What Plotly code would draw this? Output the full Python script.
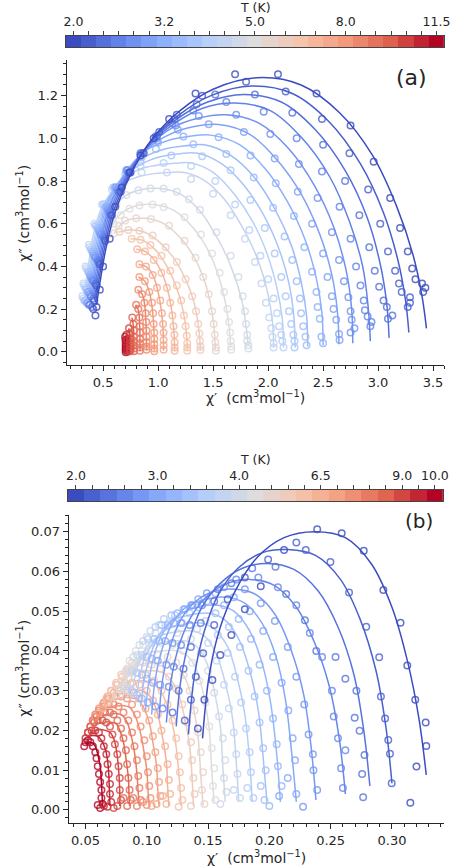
import plotly.graph_objects as go
from plotly.colors import sample_colorscale

# ---------------- panel (a) data ----------------
a_temps = [2.0, 2.2, 2.4, 2.6, 2.8, 3.0, 3.2, 3.4, 3.6, 3.8, 4.0, 4.5, 5.0,
           5.5, 6.0, 6.5, 7.0, 7.5, 8.0, 8.5, 9.0, 9.5, 10.0, 10.5, 11.5]
a_tick_idx = [0, 6, 12, 18, 24]
a_tick_txt = ["2.0", "3.2", "5.0", "8.0", "11.5"]

# measured chi' / chi'' points, one list per temperature
a_chi1 = [
    [0.43, 0.44, 0.47, 0.50, 0.56, 0.61, 0.67, 0.74, 0.84, 0.96, 1.10, 1.34, 1.70, 2.09, 2.44, 2.75, 2.96, 3.11, 3.20, 3.27, 3.31, 3.34, 3.40, 3.43, 3.41],
    [0.41, 0.42, 0.44, 0.47, 0.52, 0.58, 0.66, 0.75, 0.87, 1.01, 1.17, 1.40, 1.80, 2.16, 2.49, 2.74, 2.91, 3.02, 3.09, 3.155, 3.19, 3.215, 3.29, 3.29, 3.27],
    [0.40, 0.41, 0.43, 0.46, 0.51, 0.57, 0.65, 0.74, 0.86, 0.99, 1.15, 1.35, 1.52, 1.88, 2.22, 2.50, 2.70, 2.83, 2.92, 2.97, 3.01, 3.05, 3.08, 3.13, 3.09],
    [0.38, 0.39, 0.41, 0.45, 0.50, 0.56, 0.64, 0.73, 0.85, 0.98, 1.13, 1.32, 1.62, 1.96, 2.26, 2.49, 2.65, 2.75, 2.80, 2.84, 2.87, 2.88, 2.905, 2.94, 2.93],
    [0.37, 0.38, 0.40, 0.43, 0.48, 0.55, 0.63, 0.72, 0.84, 0.98, 1.16, 1.37, 1.71, 2.02, 2.28, 2.45, 2.58, 2.645, 2.69, 2.73, 2.75, 2.76, 2.785, 2.75],
    [0.36, 0.37, 0.39, 0.42, 0.47, 0.54, 0.62, 0.72, 0.84, 0.99, 1.18, 1.46, 1.78, 2.06, 2.27, 2.40, 2.50, 2.54, 2.58, 2.595, 2.62, 2.645, 2.65],
    [0.35, 0.36, 0.38, 0.41, 0.46, 0.53, 0.61, 0.71, 0.84, 1.00, 1.23, 1.55, 1.84, 2.07, 2.235, 2.33, 2.40, 2.44, 2.45, 2.47, 2.485, 2.50],
    [0.34, 0.35, 0.37, 0.40, 0.45, 0.52, 0.61, 0.72, 0.85, 0.98, 1.32, 1.62, 1.87, 2.045, 2.15, 2.22, 2.26, 2.29, 2.30, 2.32, 2.34, 2.35],
    [0.33, 0.34, 0.36, 0.39, 0.44, 0.51, 0.60, 0.71, 0.84, 1.12, 1.40, 1.66, 1.84, 1.97, 2.06, 2.12, 2.16, 2.19, 2.21, 2.23, 2.24, 2.24],
    [0.32, 0.33, 0.35, 0.38, 0.43, 0.50, 0.59, 0.70, 0.84, 1.05, 1.30, 1.52, 1.70, 1.83, 1.93, 2.00, 2.05, 2.08, 2.10, 2.12, 2.13, 2.14],
    [0.31, 0.32, 0.34, 0.37, 0.42, 0.49, 0.58, 0.70, 0.85, 1.08, 1.30, 1.50, 1.66, 1.79, 1.88, 1.94, 1.98, 2.01, 2.03, 2.04, 2.05, 2.05],
    [0.50, 0.55, 0.62, 0.71, 0.82, 0.93, 1.05, 1.17, 1.28, 1.38, 1.53, 1.66, 1.73, 1.77, 1.79, 1.80, 1.81, 1.81, 1.82, 1.82],
    [0.55, 0.60, 0.66, 0.74, 0.83, 0.95, 1.05, 1.24, 1.39, 1.49, 1.56, 1.60, 1.63, 1.645, 1.655, 1.66, 1.665, 1.665],
    [0.60, 0.64, 0.70, 0.80, 0.935, 1.10, 1.24, 1.34, 1.41, 1.46, 1.49, 1.505, 1.515, 1.52, 1.525, 1.525],
    [0.65, 0.73, 0.83, 0.95, 1.07, 1.17, 1.25, 1.31, 1.345, 1.365, 1.375, 1.38, 1.385, 1.385],
    [0.76, 0.84, 0.93, 1.03, 1.11, 1.17, 1.21, 1.235, 1.25, 1.26, 1.265, 1.265, 1.265],
    [0.81, 0.88, 0.96, 1.03, 1.08, 1.11, 1.13, 1.14, 1.148, 1.15, 1.15, 1.15],
    [0.83, 0.89, 0.95, 0.99, 1.02, 1.035, 1.045, 1.05, 1.05, 1.05, 1.05],
    [0.83, 0.88, 0.92, 0.945, 0.955, 0.96, 0.965, 0.965, 0.965, 0.965, 0.965],
    [0.82, 0.855, 0.875, 0.887, 0.892, 0.895, 0.895, 0.895, 0.895, 0.895],
    [0.80, 0.82, 0.83, 0.835, 0.835, 0.835, 0.835, 0.835, 0.835],
    [0.765, 0.775, 0.78, 0.78, 0.78, 0.78, 0.78, 0.78],
    [0.735, 0.742, 0.745, 0.745, 0.745, 0.745, 0.745],
    [0.712, 0.718, 0.72, 0.72, 0.72, 0.72, 0.72],
    [0.70, 0.703, 0.705, 0.705, 0.705, 0.705, 0.705],
]
a_chi2 = [
    [0.17, 0.21, 0.29, 0.40, 0.53, 0.68, 0.77, 0.84, 0.92, 1.00, 1.09, 1.21, 1.30, 1.30, 1.21, 1.06, 0.89, 0.72, 0.58, 0.47, 0.39, 0.34, 0.32, 0.30, 0.28],
    [0.20, 0.24, 0.31, 0.41, 0.52, 0.64, 0.75, 0.84, 0.93, 1.03, 1.11, 1.20, 1.265, 1.22, 1.09, 0.93, 0.76, 0.60, 0.47, 0.38, 0.32, 0.28, 0.255, 0.23, 0.21],
    [0.21, 0.25, 0.32, 0.42, 0.53, 0.64, 0.75, 0.84, 0.93, 1.01, 1.09, 1.16, 1.205, 1.205, 1.12, 0.97, 0.80, 0.64, 0.49, 0.38, 0.305, 0.24, 0.21, 0.17, 0.155],
    [0.22, 0.26, 0.33, 0.43, 0.54, 0.65, 0.75, 0.84, 0.93, 1.01, 1.07, 1.13, 1.17, 1.125, 1.00, 0.845, 0.68, 0.53, 0.40, 0.31, 0.24, 0.195, 0.165, 0.14, 0.12],
    [0.22, 0.27, 0.34, 0.44, 0.55, 0.66, 0.76, 0.85, 0.93, 1.00, 1.06, 1.105, 1.11, 1.02, 0.88, 0.72, 0.56, 0.43, 0.33, 0.255, 0.19, 0.15, 0.11, 0.09],
    [0.23, 0.28, 0.35, 0.45, 0.56, 0.67, 0.77, 0.85, 0.93, 0.99, 1.04, 1.066, 1.03, 0.905, 0.75, 0.60, 0.46, 0.35, 0.26, 0.20, 0.15, 0.083, 0.055],
    [0.23, 0.28, 0.36, 0.46, 0.57, 0.68, 0.77, 0.85, 0.92, 0.98, 1.008, 1.005, 0.92, 0.79, 0.636, 0.49, 0.375, 0.28, 0.21, 0.155, 0.07, 0.04],
    [0.24, 0.29, 0.37, 0.47, 0.58, 0.68, 0.77, 0.85, 0.91, 0.95, 0.972, 0.927, 0.817, 0.675, 0.54, 0.43, 0.33, 0.25, 0.18, 0.12, 0.07, 0.03],
    [0.24, 0.30, 0.38, 0.48, 0.59, 0.69, 0.77, 0.84, 0.89, 0.92, 0.916, 0.85, 0.711, 0.58, 0.46, 0.35, 0.26, 0.19, 0.13, 0.08, 0.05, 0.02],
    [0.25, 0.31, 0.39, 0.49, 0.59, 0.69, 0.77, 0.83, 0.87, 0.885, 0.87, 0.80, 0.69, 0.57, 0.45, 0.34, 0.25, 0.18, 0.12, 0.08, 0.05, 0.02],
    [0.26, 0.32, 0.40, 0.50, 0.60, 0.69, 0.76, 0.81, 0.84, 0.84, 0.81, 0.74, 0.64, 0.53, 0.42, 0.32, 0.23, 0.16, 0.11, 0.07, 0.04, 0.02],
    [0.58, 0.63, 0.69, 0.735, 0.757, 0.765, 0.765, 0.75, 0.715, 0.665, 0.56, 0.45, 0.35, 0.26, 0.19, 0.13, 0.08, 0.05, 0.03, 0.015],
    [0.55, 0.60, 0.64, 0.67, 0.685, 0.69, 0.677, 0.63, 0.55, 0.46, 0.37, 0.28, 0.20, 0.14, 0.09, 0.05, 0.025, 0.01],
    [0.555, 0.59, 0.615, 0.625, 0.622, 0.59, 0.52, 0.44, 0.35, 0.27, 0.19, 0.13, 0.08, 0.045, 0.02, 0.005],
    [0.5625, 0.57, 0.567, 0.545, 0.49, 0.42, 0.34, 0.26, 0.19, 0.13, 0.085, 0.05, 0.025, 0.008],
    [0.53, 0.525, 0.50, 0.45, 0.38, 0.31, 0.24, 0.17, 0.12, 0.075, 0.04, 0.02, 0.005],
    [0.48, 0.47, 0.43, 0.37, 0.30, 0.23, 0.17, 0.12, 0.08, 0.045, 0.02, 0.005],
    [0.41, 0.40, 0.36, 0.30, 0.24, 0.18, 0.13, 0.09, 0.055, 0.03, 0.01],
    [0.35, 0.33, 0.28, 0.23, 0.18, 0.13, 0.09, 0.06, 0.035, 0.015, 0.003],
    [0.29, 0.27, 0.23, 0.18, 0.14, 0.10, 0.07, 0.045, 0.025, 0.01],
    [0.22, 0.20, 0.16, 0.12, 0.09, 0.06, 0.04, 0.02, 0.005],
    [0.16, 0.13, 0.10, 0.07, 0.05, 0.03, 0.015, 0.003],
    [0.11, 0.085, 0.06, 0.04, 0.025, 0.012, 0.002],
    [0.08, 0.06, 0.045, 0.03, 0.018, 0.008, 0.0],
    [0.07, 0.055, 0.04, 0.028, 0.017, 0.008, -0.002],
]
# generalized-Debye fit curves (control points along each fitted arc)
a_fit1 = [
    [0.44, 0.47, 0.52, 0.60, 0.75, 0.95, 1.20, 1.50, 1.90, 2.30, 2.65, 2.95, 3.17, 3.32, 3.40, 3.44],
    [0.43, 0.46, 0.51, 0.59, 0.74, 0.94, 1.19, 1.48, 1.85, 2.22, 2.55, 2.84, 3.05, 3.18, 3.25, 3.28],
    [0.42, 0.45, 0.50, 0.58, 0.73, 0.93, 1.17, 1.45, 1.78, 2.12, 2.43, 2.70, 2.90, 3.02, 3.08, 3.10],
    [0.41, 0.44, 0.49, 0.57, 0.72, 0.92, 1.15, 1.40, 1.70, 2.02, 2.31, 2.56, 2.74, 2.86, 2.91, 2.93],
    [0.40, 0.43, 0.48, 0.56, 0.71, 0.91, 1.13, 1.37, 1.62, 1.92, 2.19, 2.42, 2.60, 2.71, 2.76, 2.77],
    [0.39, 0.42, 0.47, 0.55, 0.70, 0.90, 1.11, 1.33, 1.55, 1.83, 2.08, 2.30, 2.47, 2.58, 2.63, 2.645],
    [0.38, 0.41, 0.46, 0.54, 0.69, 0.88, 1.09, 1.29, 1.48, 1.74, 1.97, 2.18, 2.34, 2.44, 2.49, 2.50],
    [0.37, 0.40, 0.45, 0.53, 0.68, 0.87, 1.06, 1.25, 1.42, 1.66, 1.87, 2.06, 2.21, 2.30, 2.35, 2.36],
    [0.36, 0.39, 0.44, 0.52, 0.67, 0.85, 1.03, 1.20, 1.36, 1.58, 1.78, 1.96, 2.10, 2.19, 2.235, 2.245],
    [0.35, 0.38, 0.43, 0.51, 0.66, 0.83, 1.00, 1.15, 1.30, 1.50, 1.69, 1.86, 1.99, 2.08, 2.13, 2.14],
    [0.34, 0.37, 0.42, 0.50, 0.65, 0.82, 0.97, 1.10, 1.24, 1.43, 1.61, 1.77, 1.90, 1.99, 2.04, 2.05],
    [0.50, 0.58, 0.70, 0.85, 1.02, 1.20, 1.38, 1.52, 1.63, 1.71, 1.77, 1.80, 1.82],
    [0.55, 0.63, 0.75, 0.95, 1.15, 1.32, 1.45, 1.54, 1.60, 1.64, 1.66],
    [0.60, 0.70, 0.88, 1.05, 1.20, 1.32, 1.41, 1.47, 1.505, 1.52],
    [0.64, 0.75, 0.88, 1.02, 1.14, 1.24, 1.31, 1.355, 1.375, 1.385],
    [0.75, 0.86, 0.98, 1.08, 1.16, 1.215, 1.245, 1.26, 1.265],
    [0.80, 0.89, 0.98, 1.05, 1.10, 1.13, 1.145, 1.15],
    [0.82, 0.90, 0.96, 1.00, 1.03, 1.045, 1.05],
    [0.82, 0.88, 0.92, 0.945, 0.96, 0.965],
    [0.81, 0.855, 0.878, 0.89, 0.895],
    [0.795, 0.82, 0.832, 0.835],
    [0.762, 0.775, 0.78],
    [0.733, 0.744, 0.745],
    [0.71, 0.72, 0.72],
    [0.70, 0.705, 0.705],
]
a_fit2 = [
    [0.22, 0.32, 0.47, 0.64, 0.83, 1.00, 1.13, 1.23, 1.284, 1.25, 1.12, 0.92, 0.68, 0.45, 0.26, 0.11],
    [0.23, 0.33, 0.48, 0.65, 0.83, 0.99, 1.11, 1.20, 1.245, 1.21, 1.08, 0.88, 0.65, 0.43, 0.24, 0.09],
    [0.24, 0.34, 0.49, 0.66, 0.83, 0.98, 1.09, 1.17, 1.205, 1.17, 1.04, 0.85, 0.63, 0.41, 0.22, 0.065],
    [0.25, 0.35, 0.50, 0.67, 0.83, 0.97, 1.07, 1.14, 1.165, 1.13, 1.00, 0.82, 0.61, 0.40, 0.21, 0.05],
    [0.26, 0.36, 0.51, 0.68, 0.83, 0.96, 1.05, 1.095, 1.11, 1.07, 0.95, 0.78, 0.58, 0.38, 0.20, 0.04],
    [0.27, 0.37, 0.52, 0.68, 0.83, 0.95, 1.02, 1.055, 1.065, 1.02, 0.90, 0.74, 0.55, 0.36, 0.19, 0.035],
    [0.27, 0.38, 0.53, 0.69, 0.83, 0.94, 0.99, 1.01, 1.015, 0.97, 0.86, 0.70, 0.52, 0.34, 0.18, 0.03],
    [0.28, 0.39, 0.54, 0.69, 0.82, 0.91, 0.95, 0.965, 0.97, 0.92, 0.82, 0.67, 0.50, 0.33, 0.17, 0.025],
    [0.29, 0.40, 0.55, 0.69, 0.81, 0.88, 0.915, 0.928, 0.93, 0.88, 0.78, 0.64, 0.48, 0.32, 0.16, 0.02],
    [0.30, 0.41, 0.56, 0.69, 0.80, 0.855, 0.875, 0.883, 0.885, 0.84, 0.74, 0.61, 0.46, 0.30, 0.15, 0.02],
    [0.31, 0.42, 0.57, 0.69, 0.78, 0.82, 0.835, 0.84, 0.84, 0.80, 0.71, 0.58, 0.44, 0.29, 0.14, 0.02],
    [0.58, 0.66, 0.73, 0.76, 0.765, 0.74, 0.66, 0.55, 0.44, 0.33, 0.22, 0.12, 0.03],
    [0.55, 0.63, 0.675, 0.69, 0.66, 0.58, 0.48, 0.37, 0.26, 0.14, 0.02],
    [0.555, 0.612, 0.625, 0.60, 0.535, 0.45, 0.35, 0.24, 0.13, 0.01],
    [0.56, 0.572, 0.56, 0.51, 0.44, 0.35, 0.26, 0.16, 0.08, 0.005],
    [0.53, 0.522, 0.475, 0.40, 0.31, 0.22, 0.14, 0.07, 0.005],
    [0.48, 0.468, 0.42, 0.35, 0.26, 0.17, 0.08, 0.005],
    [0.41, 0.395, 0.35, 0.28, 0.19, 0.10, 0.005],
    [0.35, 0.33, 0.28, 0.21, 0.12, 0.005],
    [0.29, 0.27, 0.22, 0.13, 0.005],
    [0.22, 0.195, 0.13, 0.005],
    [0.16, 0.12, 0.005],
    [0.11, 0.07, 0.005],
    [0.08, 0.04, 0.003],
    [0.07, 0.035, 0.0],
]

# ---------------- panel (b) data ----------------
b_temps = [2.0, 2.2, 2.4, 2.6, 2.8, 3.0, 3.2, 3.4, 3.6, 3.8, 4.0, 4.5,
           5.0, 5.5, 6.0, 6.5, 7.0, 7.5, 8.0, 8.5, 9.0, 9.5, 10.0]
b_tick_idx = [0, 5, 10, 15, 20, 22]
b_tick_txt = ["2.0", "3.0", "4.0", "6.5", "9.0", "10.0"]

b_chi1 = [
    [0.1417, 0.147, 0.1535, 0.160, 0.169, 0.180, 0.193, 0.212, 0.239, 0.259, 0.277, 0.293, 0.307, 0.3125, 0.319, 0.3275, 0.328, 0.320, 0.315],
    [0.131, 0.136, 0.140, 0.146, 0.155, 0.166, 0.180, 0.199, 0.222, 0.2297, 0.2498, 0.265, 0.279, 0.2896, 0.291, 0.2944, 0.297, 0.2984, 0.2998],
    [0.121, 0.126, 0.130, 0.136, 0.144, 0.155, 0.169, 0.186, 0.205, 0.2137, 0.229, 0.2383, 0.254, 0.262, 0.271, 0.2696, 0.2736, 0.2776, 0.2757, 0.2765],
    [0.113, 0.118, 0.122, 0.128, 0.135, 0.145, 0.158, 0.173, 0.191, 0.207, 0.222, 0.233, 0.243, 0.251, 0.2525, 0.256, 0.262, 0.2585, 0.260],
    [0.107, 0.111, 0.116, 0.121, 0.128, 0.137, 0.149, 0.163, 0.180, 0.193, 0.2045, 0.215, 0.222, 0.2285, 0.232, 0.2355, 0.236, 0.239, 0.2275],
    [0.101, 0.105, 0.109, 0.115, 0.122, 0.131, 0.142, 0.156, 0.171, 0.184, 0.195, 0.203, 0.210, 0.2155, 0.219, 0.221, 0.215, 0.222, 0.208],
    [0.096, 0.100, 0.104, 0.110, 0.117, 0.125, 0.136, 0.149, 0.163, 0.175, 0.185, 0.192, 0.198, 0.203, 0.206, 0.207, 0.210, 0.200],
    [0.092, 0.096, 0.100, 0.106, 0.112, 0.120, 0.130, 0.142, 0.156, 0.167, 0.176, 0.183, 0.188, 0.192, 0.195, 0.197, 0.193, 0.196],
    [0.088, 0.092, 0.096, 0.101, 0.107, 0.114, 0.123, 0.135, 0.148, 0.158, 0.166, 0.172, 0.177, 0.181, 0.184, 0.185, 0.182, 0.187],
    [0.084, 0.088, 0.092, 0.097, 0.103, 0.110, 0.118, 0.129, 0.141, 0.150, 0.157, 0.163, 0.167, 0.171, 0.173, 0.174, 0.171, 0.176],
    [0.081, 0.085, 0.089, 0.094, 0.100, 0.107, 0.115, 0.125, 0.136, 0.144, 0.150, 0.155, 0.159, 0.162, 0.164, 0.163, 0.165, 0.160],
    [0.078, 0.082, 0.086, 0.091, 0.097, 0.104, 0.112, 0.121, 0.130, 0.137, 0.143, 0.148, 0.151, 0.153, 0.155, 0.154, 0.156],
    [0.075, 0.079, 0.083, 0.088, 0.094, 0.101, 0.109, 0.117, 0.124, 0.130, 0.135, 0.139, 0.142, 0.144, 0.146, 0.145, 0.147],
    [0.071, 0.075, 0.079, 0.084, 0.090, 0.097, 0.104, 0.111, 0.118, 0.124, 0.129, 0.133, 0.136, 0.137, 0.138, 0.139, 0.136],
    [0.068, 0.071, 0.075, 0.080, 0.086, 0.092, 0.099, 0.106, 0.112, 0.117, 0.121, 0.124, 0.126, 0.127, 0.128, 0.129, 0.126],
    [0.064, 0.067, 0.071, 0.076, 0.082, 0.088, 0.094, 0.100, 0.105, 0.109, 0.112, 0.115, 0.117, 0.118, 0.119, 0.116, 0.113],
    [0.061, 0.064, 0.068, 0.073, 0.078, 0.084, 0.089, 0.094, 0.099, 0.102, 0.105, 0.107, 0.109, 0.110, 0.111, 0.108, 0.104],
    [0.058, 0.061, 0.065, 0.069, 0.074, 0.079, 0.084, 0.088, 0.092, 0.095, 0.098, 0.100, 0.101, 0.102, 0.103, 0.100, 0.097],
    [0.056, 0.058, 0.061, 0.065, 0.069, 0.073, 0.077, 0.081, 0.085, 0.088, 0.090, 0.092, 0.093, 0.094, 0.095, 0.092, 0.089],
    [0.054, 0.056, 0.059, 0.062, 0.066, 0.070, 0.073, 0.076, 0.079, 0.081, 0.083, 0.084, 0.085, 0.086, 0.087, 0.084, 0.081],
    [0.052, 0.054, 0.057, 0.060, 0.064, 0.067, 0.070, 0.072, 0.074, 0.076, 0.077, 0.078, 0.078, 0.079, 0.076, 0.073],
    [0.050, 0.052, 0.055, 0.058, 0.061, 0.063, 0.065, 0.067, 0.068, 0.069, 0.070, 0.070, 0.071, 0.068, 0.065],
    [0.049, 0.050, 0.052, 0.054, 0.056, 0.058, 0.059, 0.060, 0.061, 0.062, 0.063, 0.063, 0.064, 0.062, 0.060],
]
b_chi2 = [
    [0.0205, 0.0277, 0.0327, 0.0390, 0.0440, 0.0505, 0.0563, 0.0654, 0.0706, 0.0696, 0.0652, 0.0553, 0.0471, 0.0363, 0.0277, 0.0220, 0.0161, 0.0109, 0.0018],
    [0.0225, 0.0277, 0.0335, 0.0394, 0.0465, 0.0530, 0.0585, 0.0630, 0.0673, 0.0654, 0.0624, 0.0547, 0.0461, 0.0384, 0.0285, 0.0230, 0.0176, 0.0141, 0.0067],
    [0.0245, 0.0300, 0.0355, 0.0410, 0.0470, 0.0525, 0.0570, 0.0608, 0.0612, 0.0543, 0.0477, 0.0400, 0.0385, 0.0330, 0.0300, 0.0232, 0.0199, 0.0138, 0.0090, 0.0032],
    [0.0255, 0.0310, 0.0360, 0.0415, 0.0465, 0.0515, 0.0555, 0.0580, 0.0585, 0.0560, 0.0515, 0.0445, 0.0385, 0.0300, 0.0235, 0.0180, 0.0150, 0.0105, 0.0055],
    [0.0260, 0.0315, 0.0365, 0.0420, 0.0470, 0.0515, 0.0545, 0.0560, 0.0555, 0.0520, 0.0475, 0.0410, 0.0335, 0.0265, 0.0190, 0.0140, 0.0100, 0.0050, 0.0008],
    [0.0270, 0.0320, 0.0375, 0.0425, 0.0470, 0.0505, 0.0530, 0.0545, 0.0535, 0.0500, 0.0450, 0.0385, 0.0320, 0.0250, 0.0180, 0.0125, 0.0080, 0.0040, 0.0035],
    [0.0280, 0.0330, 0.0380, 0.0425, 0.0465, 0.0495, 0.0515, 0.0525, 0.0515, 0.0480, 0.0430, 0.0365, 0.0300, 0.0230, 0.0165, 0.0110, 0.0060, 0.0010],
    [0.0290, 0.0340, 0.0385, 0.0430, 0.0465, 0.0490, 0.0505, 0.0510, 0.0495, 0.0460, 0.0410, 0.0350, 0.0285, 0.0220, 0.0155, 0.0100, 0.0060, 0.0025],
    [0.0300, 0.0345, 0.0390, 0.0430, 0.0460, 0.0480, 0.0490, 0.0495, 0.0475, 0.0440, 0.0395, 0.0335, 0.0270, 0.0205, 0.0145, 0.0095, 0.0055, 0.0030],
    [0.0305, 0.0350, 0.0390, 0.0425, 0.0450, 0.0465, 0.0470, 0.0470, 0.0455, 0.0420, 0.0375, 0.0315, 0.0255, 0.0195, 0.0140, 0.0090, 0.0050, 0.0030],
    [0.0310, 0.0350, 0.0385, 0.0415, 0.0435, 0.0445, 0.0450, 0.0445, 0.0430, 0.0395, 0.0350, 0.0295, 0.0235, 0.0180, 0.0125, 0.0080, 0.0045, 0.0015],
    [0.0305, 0.0345, 0.0375, 0.0400, 0.0415, 0.0420, 0.0420, 0.0415, 0.0400, 0.0370, 0.0325, 0.0270, 0.0210, 0.0155, 0.0105, 0.0060, 0.0025],
    [0.0290, 0.0325, 0.0350, 0.0370, 0.0385, 0.0390, 0.0390, 0.0385, 0.0370, 0.0340, 0.0300, 0.0250, 0.0195, 0.0145, 0.0095, 0.0050, 0.0015],
    [0.0285, 0.0315, 0.0340, 0.0355, 0.0365, 0.0370, 0.0365, 0.0355, 0.0335, 0.0305, 0.0265, 0.0220, 0.0170, 0.0125, 0.0080, 0.0040, 0.0010],
    [0.0270, 0.0300, 0.0320, 0.0335, 0.0345, 0.0345, 0.0340, 0.0325, 0.0300, 0.0265, 0.0225, 0.0180, 0.0135, 0.0095, 0.0055, 0.0025, 0.0008],
    [0.0255, 0.0280, 0.0300, 0.0315, 0.0320, 0.0320, 0.0315, 0.0300, 0.0275, 0.0240, 0.0200, 0.0160, 0.0115, 0.0075, 0.0040, 0.0015, 0.0035],
    [0.0245, 0.0265, 0.0285, 0.0295, 0.0300, 0.0300, 0.0295, 0.0280, 0.0255, 0.0225, 0.0185, 0.0145, 0.0105, 0.0070, 0.0035, 0.0015, 0.0010],
    [0.0235, 0.0255, 0.0270, 0.0280, 0.0285, 0.0285, 0.0280, 0.0265, 0.0240, 0.0210, 0.0175, 0.0135, 0.0095, 0.0060, 0.0030, 0.0012, 0.0020],
    [0.0225, 0.0240, 0.0250, 0.0260, 0.0265, 0.0265, 0.0260, 0.0245, 0.0225, 0.0195, 0.0160, 0.0125, 0.0085, 0.0055, 0.0025, 0.0010, 0.0030],
    [0.0210, 0.0225, 0.0235, 0.0240, 0.0245, 0.0245, 0.0240, 0.0225, 0.0205, 0.0180, 0.0150, 0.0115, 0.0080, 0.0050, 0.0025, 0.0010, 0.0030],
    [0.0195, 0.0210, 0.0220, 0.0225, 0.0225, 0.0220, 0.0210, 0.0190, 0.0165, 0.0140, 0.0110, 0.0080, 0.0050, 0.0025, 0.0010, 0.0005],
    [0.0180, 0.0195, 0.0200, 0.0200, 0.0195, 0.0180, 0.0160, 0.0140, 0.0115, 0.0090, 0.0065, 0.0040, 0.0020, 0.0008, 0.0010],
    [0.0160, 0.0170, 0.0175, 0.0170, 0.0160, 0.0145, 0.0130, 0.0110, 0.0090, 0.0070, 0.0050, 0.0030, 0.0015, 0.0005, 0.0012],
]
b_fit1 = [
    [0.1455, 0.151, 0.160, 0.172, 0.190, 0.212, 0.237, 0.262, 0.283, 0.300, 0.313, 0.322, 0.328],
    [0.134, 0.139, 0.147, 0.158, 0.175, 0.195, 0.215, 0.238, 0.258, 0.274, 0.287, 0.295, 0.300],
    [0.124, 0.128, 0.135, 0.145, 0.160, 0.178, 0.198, 0.220, 0.240, 0.256, 0.269, 0.277, 0.282],
    [0.116, 0.120, 0.127, 0.137, 0.150, 0.166, 0.184, 0.204, 0.222, 0.237, 0.249, 0.257, 0.262],
    [0.110, 0.113, 0.119, 0.128, 0.140, 0.155, 0.173, 0.190, 0.205, 0.218, 0.228, 0.234, 0.238],
    [0.104, 0.107, 0.113, 0.121, 0.132, 0.148, 0.165, 0.180, 0.194, 0.205, 0.213, 0.218, 0.222],
    [0.099, 0.102, 0.107, 0.115, 0.126, 0.141, 0.158, 0.171, 0.184, 0.194, 0.201, 0.206, 0.209],
    [0.095, 0.098, 0.103, 0.110, 0.120, 0.134, 0.151, 0.163, 0.175, 0.184, 0.191, 0.195, 0.198],
    [0.091, 0.094, 0.098, 0.105, 0.114, 0.128, 0.144, 0.155, 0.166, 0.174, 0.180, 0.184, 0.186],
    [0.087, 0.090, 0.094, 0.100, 0.109, 0.122, 0.138, 0.148, 0.157, 0.164, 0.170, 0.173, 0.175],
    [0.084, 0.087, 0.091, 0.097, 0.105, 0.117, 0.132, 0.141, 0.149, 0.155, 0.160, 0.162, 0.164],
    [0.080, 0.083, 0.087, 0.093, 0.101, 0.112, 0.125, 0.134, 0.141, 0.147, 0.151, 0.153, 0.155],
    [0.077, 0.080, 0.084, 0.090, 0.098, 0.108, 0.118, 0.126, 0.133, 0.138, 0.142, 0.144, 0.146],
    [0.073, 0.076, 0.080, 0.086, 0.094, 0.102, 0.111, 0.119, 0.126, 0.131, 0.135, 0.137, 0.138],
    [0.070, 0.072, 0.076, 0.082, 0.089, 0.097, 0.104, 0.111, 0.117, 0.122, 0.125, 0.127, 0.128],
    [0.066, 0.068, 0.072, 0.078, 0.085, 0.092, 0.098, 0.104, 0.109, 0.113, 0.116, 0.117, 0.118],
    [0.063, 0.065, 0.069, 0.075, 0.081, 0.087, 0.092, 0.097, 0.102, 0.105, 0.108, 0.109, 0.110],
    [0.060, 0.062, 0.066, 0.071, 0.076, 0.081, 0.086, 0.090, 0.094, 0.097, 0.100, 0.101, 0.102],
    [0.057, 0.059, 0.062, 0.067, 0.071, 0.076, 0.080, 0.084, 0.087, 0.090, 0.092, 0.093, 0.094],
    [0.055, 0.057, 0.060, 0.064, 0.068, 0.072, 0.075, 0.078, 0.081, 0.083, 0.085, 0.0855, 0.086],
    [0.053, 0.055, 0.058, 0.062, 0.066, 0.070, 0.073, 0.075, 0.0765, 0.0775, 0.078, 0.078],
    [0.051, 0.053, 0.056, 0.060, 0.063, 0.066, 0.068, 0.069, 0.0695, 0.070],
    [0.050, 0.052, 0.055, 0.058, 0.060, 0.062, 0.063, 0.0635, 0.064],
]
b_fit2 = [
    [0.018, 0.034, 0.046, 0.055, 0.0635, 0.0685, 0.070, 0.0685, 0.062, 0.051, 0.037, 0.023, 0.0088],
    [0.019, 0.034, 0.045, 0.054, 0.061, 0.0648, 0.0655, 0.064, 0.058, 0.048, 0.035, 0.021, 0.0067],
    [0.021, 0.033, 0.043, 0.051, 0.057, 0.0608, 0.062, 0.0605, 0.055, 0.046, 0.034, 0.020, 0.006],
    [0.022, 0.033, 0.042, 0.049, 0.054, 0.057, 0.058, 0.0565, 0.051, 0.042, 0.031, 0.018, 0.004],
    [0.023, 0.033, 0.041, 0.048, 0.0525, 0.055, 0.0555, 0.054, 0.049, 0.040, 0.029, 0.016, 0.0025],
    [0.024, 0.033, 0.041, 0.047, 0.051, 0.053, 0.0535, 0.052, 0.047, 0.039, 0.028, 0.015, 0.002],
    [0.025, 0.033, 0.040, 0.0455, 0.049, 0.051, 0.0515, 0.050, 0.045, 0.037, 0.027, 0.014, 0.002],
    [0.026, 0.033, 0.039, 0.044, 0.0475, 0.049, 0.0495, 0.048, 0.043, 0.035, 0.025, 0.013, 0.002],
    [0.027, 0.033, 0.038, 0.042, 0.045, 0.0465, 0.047, 0.0455, 0.041, 0.033, 0.024, 0.012, 0.002],
    [0.028, 0.033, 0.0375, 0.041, 0.0435, 0.0447, 0.045, 0.0435, 0.039, 0.032, 0.023, 0.012, 0.002],
    [0.028, 0.0325, 0.0365, 0.0395, 0.0415, 0.0423, 0.0425, 0.041, 0.037, 0.030, 0.021, 0.011, 0.002],
    [0.028, 0.032, 0.0355, 0.038, 0.0395, 0.040, 0.040, 0.0385, 0.035, 0.028, 0.020, 0.010, 0.002],
    [0.028, 0.031, 0.034, 0.036, 0.0368, 0.037, 0.037, 0.0355, 0.032, 0.026, 0.018, 0.009, 0.001],
    [0.027, 0.030, 0.0325, 0.0343, 0.035, 0.035, 0.0348, 0.033, 0.029, 0.023, 0.016, 0.008, 0.001],
    [0.026, 0.0285, 0.031, 0.032, 0.0325, 0.0325, 0.032, 0.030, 0.026, 0.020, 0.013, 0.006, 0.001],
    [0.025, 0.027, 0.029, 0.030, 0.0303, 0.0302, 0.0298, 0.028, 0.024, 0.018, 0.012, 0.006, 0.001],
    [0.024, 0.026, 0.0275, 0.028, 0.0283, 0.0282, 0.0278, 0.026, 0.022, 0.017, 0.011, 0.005, 0.001],
    [0.023, 0.0245, 0.0257, 0.026, 0.0262, 0.0262, 0.0258, 0.024, 0.0205, 0.016, 0.010, 0.005, 0.001],
    [0.022, 0.023, 0.0238, 0.024, 0.0242, 0.0242, 0.0238, 0.022, 0.019, 0.0145, 0.009, 0.0045, 0.001],
    [0.020, 0.021, 0.0218, 0.022, 0.0222, 0.022, 0.0217, 0.020, 0.017, 0.013, 0.008, 0.004, 0.001],
    [0.019, 0.0197, 0.020, 0.0202, 0.020, 0.0195, 0.018, 0.0155, 0.012, 0.008, 0.004, 0.001],
    [0.018, 0.0185, 0.0187, 0.0185, 0.0175, 0.0155, 0.0125, 0.009, 0.005, 0.001],
    [0.0165, 0.017, 0.017, 0.016, 0.014, 0.011, 0.007, 0.004, 0.001],
]

# ---------------- styling ----------------
COOLWARM = [
    [0.0, "rgb(59,76,192)"], [0.125, "rgb(98,130,234)"], [0.25, "rgb(141,176,254)"],
    [0.375, "rgb(184,208,249)"], [0.5, "rgb(221,221,221)"], [0.625, "rgb(245,196,173)"],
    [0.75, "rgb(244,154,123)"], [0.875, "rgb(222,96,77)"], [1.0, "rgb(180,4,38)"],
]
W, H = 453, 866
INK = "#262626"
FONT = "DejaVu Sans"


def colors_for(n):
    return sample_colorscale(COOLWARM, [i / (n - 1) for i in range(n)])


def px_x(p):
    return p / W


def px_y(p):
    return 1 - p / H


fig = go.Figure()


def add_panel(chi1, chi2, fit1, fit2, xa, ya):
    n = len(chi1)
    cols = colors_for(n)
    for i in reversed(range(n)):
        fig.add_trace(go.Scatter(
            x=fit1[i], y=fit2[i], mode="lines", xaxis=xa, yaxis=ya,
            line=dict(color=cols[i], width=1.5, shape="spline", smoothing=1.0),
            hoverinfo="skip", showlegend=False))
        fig.add_trace(go.Scatter(
            x=chi1[i], y=chi2[i], mode="markers", xaxis=xa, yaxis=ya,
            marker=dict(symbol="circle-open", size=6.5, color=cols[i],
                        opacity=0.8, line=dict(width=1.5)),
            hoverinfo="skip", showlegend=False))


def add_cbar(n, xa, ya):
    cols = colors_for(n)
    scale = [[i / (n - 1), c] for i, c in enumerate(cols)]
    fig.add_trace(go.Heatmap(
        z=[list(range(n))], x=list(range(n)), y=[0], zmin=0, zmax=n - 1,
        colorscale=scale, showscale=False, xaxis=xa, yaxis=ya, hoverinfo="skip"))


add_panel(a_chi1, a_chi2, a_fit1, a_fit2, "x", "y")
add_panel(b_chi1, b_chi2, b_fit1, b_fit2, "x2", "y2")
add_cbar(len(a_temps), "x3", "y3")
add_cbar(len(b_temps), "x4", "y4")

tickfont = dict(family=FONT, size=13, color=INK)
common = dict(showgrid=False, zeroline=False, showline=True, linecolor=INK,
              linewidth=1.3, ticks="outside", ticklen=5, tickwidth=1.2,
              tickcolor=INK, tickfont=tickfont)


def minor(d):
    return dict(dtick=d, ticks="outside", ticklen=2.5, tickwidth=1, tickcolor=INK)


def cbar_axis(n, idx, txt, left, right):
    # labelled ticks at a few temperatures, a small tick at every block
    return dict(domain=[px_x(left), px_x(right)], range=[-0.5, n - 0.5],
                side="top", showgrid=False, zeroline=False, showline=True, mirror=True,
                linecolor="#444", linewidth=1, ticks="outside", ticklen=4, tickwidth=1,
                tickcolor="#444", tickfont=dict(family=FONT, size=12.5, color=INK),
                tickmode="array", tickvals=idx, ticktext=txt, ticklabeloverflow="allow",
                minor=dict(tickmode="array", tickvals=list(range(n)), ticks="outside",
                           ticklen=4, tickwidth=1, tickcolor="#444"))


fig.update_layout(
    width=W, height=H, margin=dict(l=0, r=0, t=0, b=0),
    paper_bgcolor="white", plot_bgcolor="white",
    font=dict(family=FONT, size=13, color=INK),
    showlegend=False,
    xaxis=dict(domain=[px_x(66), px_x(450)], anchor="y", range=[0.17, 3.60],
               tick0=0.5, dtick=0.5, tickformat=".1f", minor=minor(0.1), **common),
    yaxis=dict(domain=[px_y(365), px_y(60)], anchor="x", range=[-0.062, 1.367],
               tick0=0, dtick=0.2, tickformat=".1f", minor=minor(0.05), **common),
    xaxis2=dict(domain=[px_x(68), px_x(450)], anchor="y2", range=[0.0364, 0.3425],
                tick0=0.05, dtick=0.05, tickformat=".2f", minor=minor(0.01), **common),
    yaxis2=dict(domain=[px_y(823), px_y(515)], anchor="x2", range=[-0.0033, 0.0742],
                tick0=0, dtick=0.01, tickformat=".2f", minor=minor(0.002), **common),
    xaxis3=dict(anchor="y3", **cbar_axis(len(a_temps), a_tick_idx, a_tick_txt, 65, 450)),
    yaxis3=dict(domain=[px_y(47), px_y(36)], anchor="x3", range=[-0.5, 0.5],
                showgrid=False, zeroline=False, showticklabels=False, ticks="",
                showline=True, mirror=True, linecolor="#444", linewidth=1),
    xaxis4=dict(anchor="y4", **cbar_axis(len(b_temps), b_tick_idx, b_tick_txt, 67, 449)),
    yaxis4=dict(domain=[px_y(501), px_y(490)], anchor="x4", range=[-0.5, 0.5],
                showgrid=False, zeroline=False, showticklabels=False, ticks="",
                showline=True, mirror=True, linecolor="#444", linewidth=1),
)

unit = "(cm<sup>3</sup>mol<sup>\u22121</sup>)"
notes = [
    ("T (K)", 258, 7, 12.5, 0),
    ("T (K)", 258, 460, 12.5, 0),
    ("(a)", 417, 77, 22, 0),
    ("(b)", 425, 521, 20, 0),
    ("\u03c7\u2032  " + unit, 258, 397, 14, 0),
    ("\u03c7\u2032  " + unit, 259, 857, 14, 0),
    ("\u03c7\u2033 " + unit, 21, 213, 14, -90),
    ("\u03c7\u2033 " + unit, 21, 668, 14, -90),
]
for text, x, y, size, ang in notes:
    fig.add_annotation(text=text, x=px_x(x), y=px_y(y), xref="paper", yref="paper",
                       showarrow=False, textangle=ang, xanchor="center", yanchor="middle",
                       font=dict(family=FONT, size=size, color=INK))

fig.write_html("out.html")
